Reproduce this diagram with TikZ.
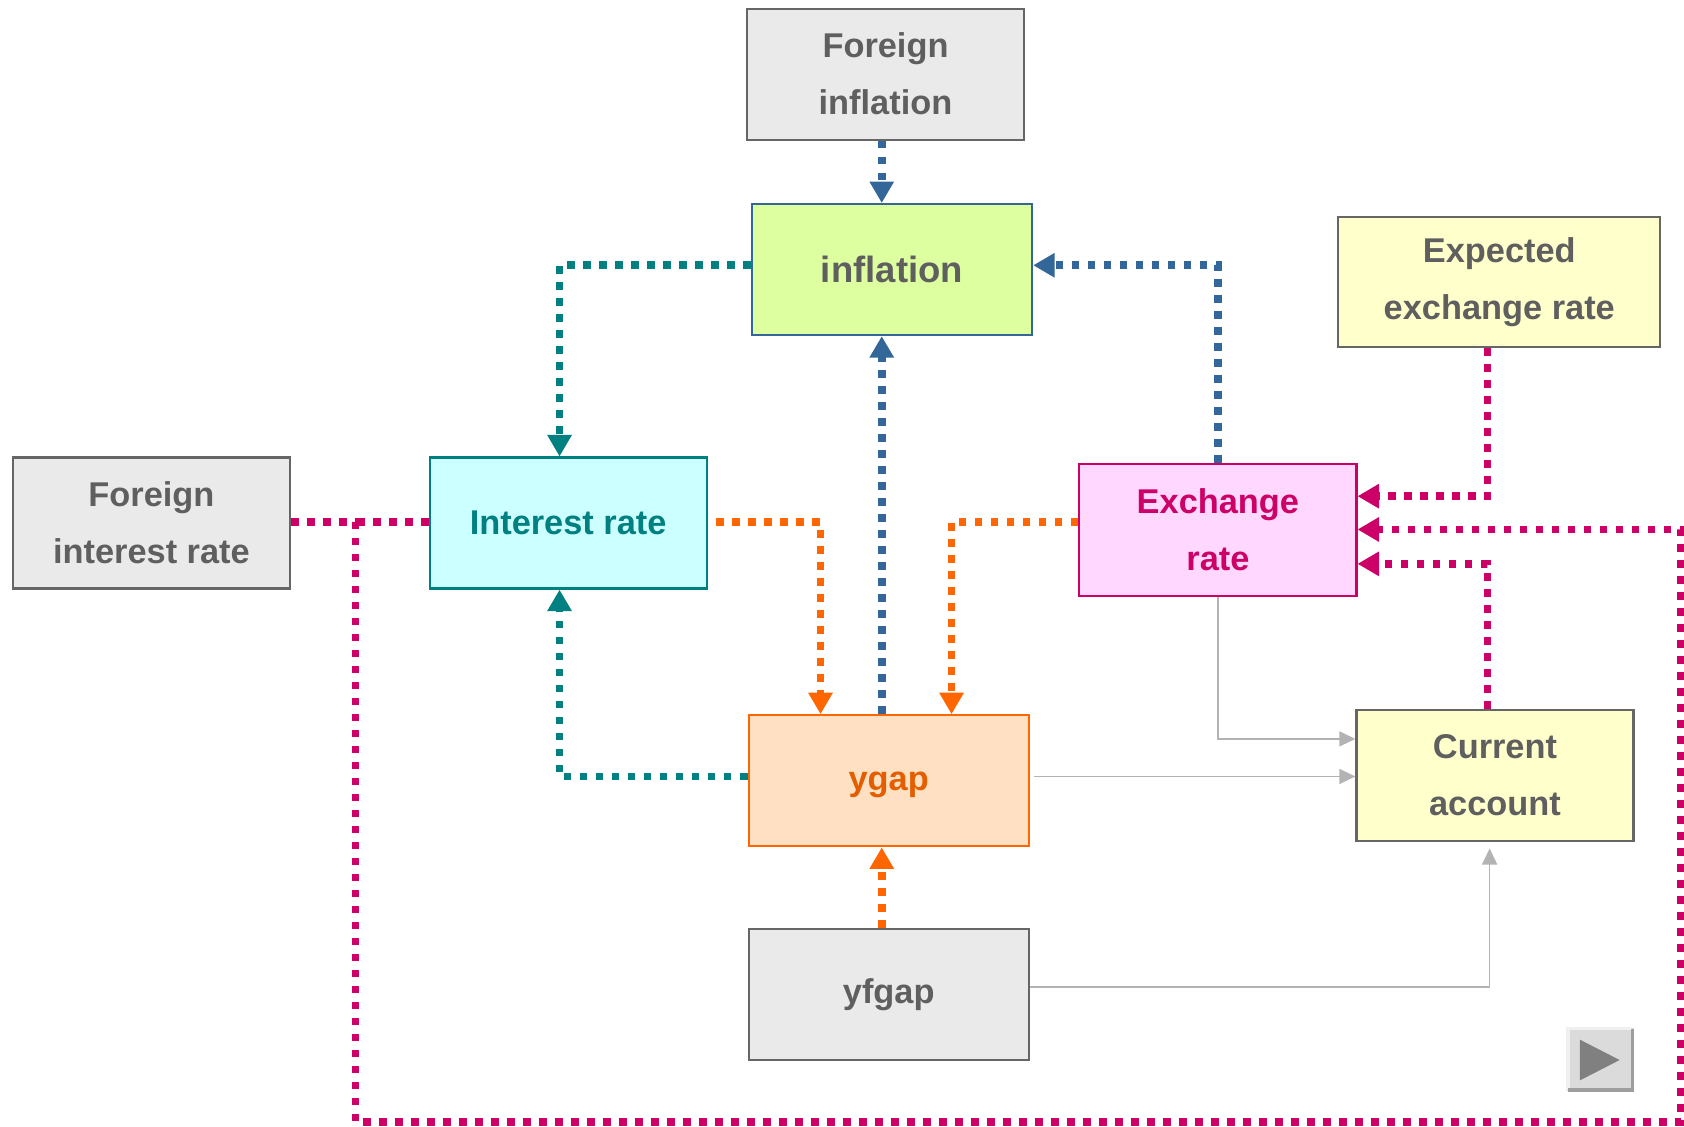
\documentclass[tikz,border=0pt]{standalone}
\usepackage{fontspec}
\setmainfont{Liberation Sans}
\usetikzlibrary{arrows.meta}
\definecolor{txtgrey}{HTML}{5F5F5F}
\definecolor{boxgrey}{HTML}{EAEAEA}
\definecolor{bordergrey}{HTML}{666666}
\definecolor{infill}{HTML}{DEFFA0}
\definecolor{cblue}{HTML}{336699}
\definecolor{lyellow}{HTML}{FFFFCC}
\definecolor{cyanfill}{HTML}{CCFFFF}
\definecolor{cteal}{HTML}{008080}
\definecolor{pinkfill}{HTML}{FFD7FF}
\definecolor{cpink}{HTML}{CC0066}
\definecolor{peach}{HTML}{FFE0C2}
\definecolor{corange}{HTML}{FF6600}
\definecolor{ygtext}{HTML}{E25E00}
\definecolor{lgrey}{HTML}{B3B3B3}
\begin{document}
\begin{tikzpicture}[x=0.5pt,y=-0.5pt,
  box/.style={draw, line width=1pt, align=center, inner sep=0pt,
    font=\bfseries\fontsize{16}{26.5}\selectfont, text=txtgrey,
    minimum width=129pt, minimum height=61pt},
  greybox/.style={box, fill=boxgrey, draw=bordergrey},
  yellowbox/.style={box, fill=lyellow, draw=bordergrey},
  dotline/.style={line width=3.6pt, dash pattern=on 3.6pt off 3.85pt},
  tip/.style={-{Triangle[width=10.8pt,length=10pt]}},
  bluearr/.style={dotline, tip, draw=cblue},
  tealarr/.style={dotline, tip, draw=cteal},
  orangearr/.style={dotline, tip, draw=corange},
  pinkarr/.style={dotline, tip, draw=cpink},
  pinkline/.style={dotline, draw=cpink},
  greyarr/.style={line width=0.7pt, draw=lgrey, -{Triangle[width=7pt,length=7.5pt]}}
]
\useasboundingbox (0,0) rectangle (1568,1049);
\fill[white] (0,0) rectangle (1568,1049);

% nodes
\node[greybox] (fi) at (824.5,69) {Foreign\\inflation};
\node[box, fill=infill, draw=cblue, minimum width=130.5pt,
      font=\bfseries\fontsize{17}{26.5}\selectfont] (inf) at (830.5,251) {inflation};
\node[yellowbox, minimum width=150pt, minimum height=60.5pt] (eer) at (1396,262.5) {Expected\\exchange rate};
\node[greybox] (fir) at (141,487) {Foreign\\interest rate};
\node[box, fill=cyanfill, draw=cteal, text=cteal] (ir) at (529,487) {Interest rate};
\node[box, fill=pinkfill, draw=cpink, text=cpink, minimum height=61.5pt] (er) at (1134,493.5) {Exchange\\rate};
\node[box, fill=peach, draw=corange, text=ygtext, minimum width=130.5pt, text depth=0pt] (yg) at (827.5,727) {ygap};
\node[yellowbox] (ca) at (1392,722) {Current\\account};
\node[greybox, minimum width=130.5pt] (yf) at (827.5,926) {yfgap};

% blue connectors
\draw[bluearr] (821,0 |- fi.south) -- (821,0 |- inf.north);
\draw[bluearr] (1134,0 |- er.north) |- (inf.east |- 0,247);
\draw[bluearr] (821,0 |- yg.north) -- (821,0 |- inf.south);

% teal connectors
\draw[tealarr] (inf.west |- 0,247) -| (521,0 |- ir.north);
\draw[tealarr] (yg.west |- 0,723) -| (521,0 |- ir.south);

% orange connectors
\draw[orangearr, shorten <=4pt] (ir.east |- 0,486) -| (764,0 |- yg.north);
\draw[orangearr] (er.west |- 0,486) -| (886,0 |- yg.north);
\draw[orangearr] (821,0 |- yf.north) -- (821,0 |- yg.south);

% pink connectors
\coordinate (jn) at (331,486);
\draw[pinkarr] (fir.east |- jn) -- (jn) -- (331,1045) -- (1565,1045) -- (1565,493) -- (er.east |- 0,493);
\draw[pinkline] (ir.west |- jn) -- (jn);
\draw[pinkarr] (1385,0 |- eer.south) |- (er.east |- 0,462);
\draw[pinkarr] (1385,0 |- ca.north) |- (er.east |- 0,525);

% grey connectors
\draw[greyarr] (1134,0 |- er.south) |- (ca.west |- 0,688);
\draw[greyarr, shorten <=2pt] (yg.east |- 0,723) -- (ca.west |- 0,723);
\draw[greyarr, shorten >=3pt] (yf.east |- 0,919) -| (1387,0 |- ca.south);

% play button
\fill[fill=black!14] (1459,957) rectangle (1521,1016);
\draw[line width=1.5pt, black!6] (1460,1015) -- (1460,958) -- (1520,958);
\draw[line width=1.5pt, black!38] (1460,1015) -- (1520,1015) -- (1520,958);
\fill[black!50] (1471,968) -- (1508,987) -- (1471,1006) -- cycle;
\end{tikzpicture}
\end{document}
